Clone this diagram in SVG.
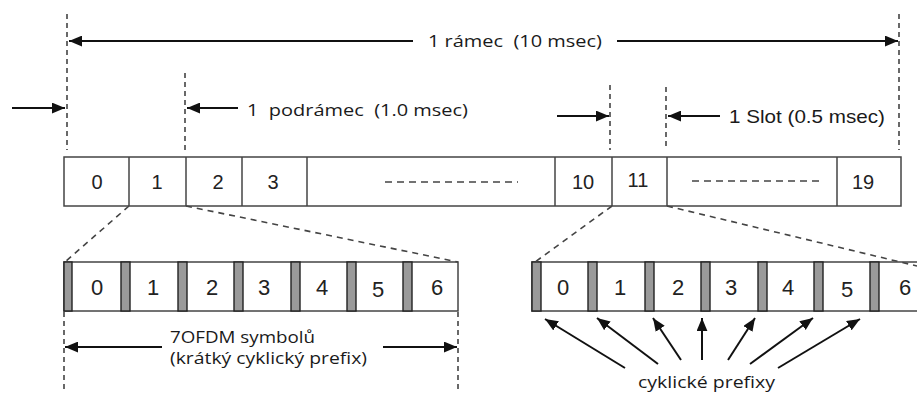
<svg xmlns="http://www.w3.org/2000/svg" width="917" height="393" viewBox="0 0 917 393">
  <defs>
    <marker id="ah" viewBox="0 0 12 10" refX="12" refY="5" markerWidth="13" markerHeight="11" markerUnits="userSpaceOnUse" orient="auto">
      <path d="M0,0 L12,5 L0,10 z" fill="#111"/>
    </marker>
  </defs>
  <style>
    .guide { stroke: #444; stroke-width: 1.6; stroke-dasharray: 5 4; fill: none; }
    .zoom { stroke: #444; stroke-width: 1.6; stroke-dasharray: 6 5; fill: none; }
    .arr { stroke: #111; stroke-width: 2; fill: none; marker-end: url(#ah); }
    .box { fill: #fff; stroke: #444; stroke-width: 1.5; }
    .cp { fill: #9a9a9a; stroke: #222; stroke-width: 1.4; }
    .num { font-family: "Liberation Sans", Arial, sans-serif; font-size: 20px; fill: #222; text-anchor: middle; dominant-baseline: central; }
    .sym { font-size: 22px; }
    .lbl { font-family: "Open Sans", "Noto Sans", sans-serif; font-size: 17px; fill: #1a1a1a; white-space: pre; }
    .lbl2 { font-family: "Liberation Sans", Arial, sans-serif; font-size: 19px; fill: #1a1a1a; white-space: pre; }
    .dots { stroke: #444; stroke-width: 1.6; stroke-dasharray: 7 5; }
  </style>

  <!-- timing guides -->
  <g id="guides">
    <line class="guide" x1="67" y1="14" x2="67" y2="150"/>
    <line class="guide" x1="899" y1="14" x2="899" y2="150"/>
    <line class="guide" x1="185" y1="73" x2="185" y2="150"/>
    <line class="guide" x1="610" y1="85" x2="610" y2="150"/>
    <line class="guide" x1="666" y1="87" x2="666" y2="150"/>
    <line class="guide" x1="64" y1="312" x2="64" y2="390"/>
    <line class="guide" x1="458" y1="312" x2="458" y2="390"/>
  </g>

  <!-- dimension labels -->
  <g id="label-frame">
    <text class="lbl" x="428" y="47" textLength="174" lengthAdjust="spacingAndGlyphs">1 rámec  (10 msec)</text>
  </g>
  <g id="label-subframe">
    <text class="lbl" x="247" y="116" textLength="221" lengthAdjust="spacingAndGlyphs">1  podrámec  (1.0 msec)</text>
  </g>
  <g id="label-slot">
    <text class="lbl2" x="729" y="123" textLength="156" lengthAdjust="spacingAndGlyphs">1 Slot (0.5 msec)</text>
  </g>
  <g id="label-symbols">
    <text class="lbl" x="170" y="343" textLength="145" lengthAdjust="spacingAndGlyphs">7OFDM symbolů</text>
    <text class="lbl" x="170" y="364" textLength="197" lengthAdjust="spacingAndGlyphs">(krátký cyklický prefix)</text>
  </g>
  <g id="label-prefixes">
    <text class="lbl" x="638" y="388" textLength="137" lengthAdjust="spacingAndGlyphs">cyklické prefixy</text>
  </g>

  <!-- radio frame with 20 slots -->
  <g id="frame">
    <rect class="box" x="64" y="157" width="837" height="49"/>
    <line class="box" x1="129" y1="157" x2="129" y2="206"/>
    <line class="box" x1="186" y1="157" x2="186" y2="206"/>
    <line class="box" x1="242" y1="157" x2="242" y2="206"/>
    <line class="box" x1="307" y1="157" x2="307" y2="206"/>
    <line class="box" x1="555" y1="157" x2="555" y2="206"/>
    <line class="box" x1="612" y1="157" x2="612" y2="206"/>
    <line class="box" x1="667" y1="157" x2="667" y2="206"/>
    <line class="box" x1="837" y1="157" x2="837" y2="206"/>
    <text class="num" x="97" y="182">0</text>
    <text class="num" x="157" y="182">1</text>
    <text class="num" x="218" y="182">2</text>
    <text class="num" x="273" y="182">3</text>
    <line class="dots" x1="385" y1="182" x2="518" y2="182"/>
    <text class="num" x="583" y="182">10</text>
    <text class="num" x="638" y="180">11</text>
    <line class="dots" x1="692" y1="181" x2="823" y2="181"/>
    <text class="num" x="863" y="182">19</text>
  </g>

  <!-- slot 1 expanded: 7 OFDM symbols -->
  <g id="slot-a">
    <rect class="box" x="64" y="262" width="394" height="49"/>
    <rect class="cp" x="64" y="262" width="8" height="49"/>
    <rect class="cp" x="121" y="262" width="9" height="49"/>
    <rect class="cp" x="178" y="262" width="9" height="49"/>
    <rect class="cp" x="234" y="262" width="9" height="49"/>
    <rect class="cp" x="291" y="262" width="9" height="49"/>
    <rect class="cp" x="347" y="262" width="9" height="49"/>
    <rect class="cp" x="403" y="262" width="9" height="49"/>
    <text class="num sym" x="97" y="287">0</text>
    <text class="num sym" x="153" y="287">1</text>
    <text class="num sym" x="212" y="287">2</text>
    <text class="num sym" x="264" y="287">3</text>
    <text class="num sym" x="322" y="287">4</text>
    <text class="num sym" x="378" y="289">5</text>
    <text class="num sym" x="437" y="287">6</text>
  </g>

  <!-- slot 11 expanded: 7 OFDM symbols -->
  <g id="slot-b">
    <rect class="box" x="532" y="262" width="400" height="49"/>
    <rect class="cp" x="532" y="262" width="9" height="49"/>
    <rect class="cp" x="588" y="262" width="9" height="49"/>
    <rect class="cp" x="645" y="262" width="9" height="49"/>
    <rect class="cp" x="701" y="262" width="9" height="49"/>
    <rect class="cp" x="758" y="262" width="9" height="49"/>
    <rect class="cp" x="814" y="262" width="9" height="49"/>
    <rect class="cp" x="870" y="262" width="9" height="49"/>
    <text class="num sym" x="563" y="287">0</text>
    <text class="num sym" x="620" y="287">1</text>
    <text class="num sym" x="678" y="287">2</text>
    <text class="num sym" x="731" y="287">3</text>
    <text class="num sym" x="788" y="287">4</text>
    <text class="num sym" x="847" y="289">5</text>
    <text class="num sym" x="905" y="287">6</text>
  </g>

  <!-- connectors -->
  <g id="connectors">
    <!-- zoom lines from slots to symbol rows -->
    <line class="zoom" x1="129" y1="206" x2="65" y2="262"/>
    <line class="zoom" x1="186" y1="206" x2="458" y2="262"/>
    <line class="zoom" x1="612" y1="206" x2="535" y2="262"/>
    <line class="zoom" x1="667" y1="206" x2="917" y2="266"/>

    <!-- frame span -->
    <line class="arr" x1="413" y1="41" x2="69" y2="41"/>
    <line class="arr" x1="617" y1="41" x2="898" y2="41"/>
    <!-- subframe span -->
    <line class="arr" x1="12" y1="108" x2="65" y2="108"/>
    <line class="arr" x1="238" y1="108" x2="187" y2="108"/>
    <!-- slot span -->
    <line class="arr" x1="557" y1="116" x2="609" y2="116"/>
    <line class="arr" x1="720" y1="116" x2="668" y2="116"/>
    <!-- symbol span -->
    <line class="arr" x1="162" y1="347" x2="65" y2="347"/>
    <line class="arr" x1="383" y1="347" x2="457" y2="347"/>
    <!-- cyclic prefix pointers -->
    <line class="arr" x1="625" y1="368" x2="545" y2="319"/>
    <line class="arr" x1="658" y1="364" x2="597" y2="318"/>
    <line class="arr" x1="681" y1="360" x2="653" y2="318"/>
    <line class="arr" x1="702" y1="360" x2="702" y2="318"/>
    <line class="arr" x1="728" y1="360" x2="755" y2="318"/>
    <line class="arr" x1="750" y1="364" x2="813" y2="318"/>
    <line class="arr" x1="778" y1="368" x2="860" y2="319"/>
  </g>
</svg>
